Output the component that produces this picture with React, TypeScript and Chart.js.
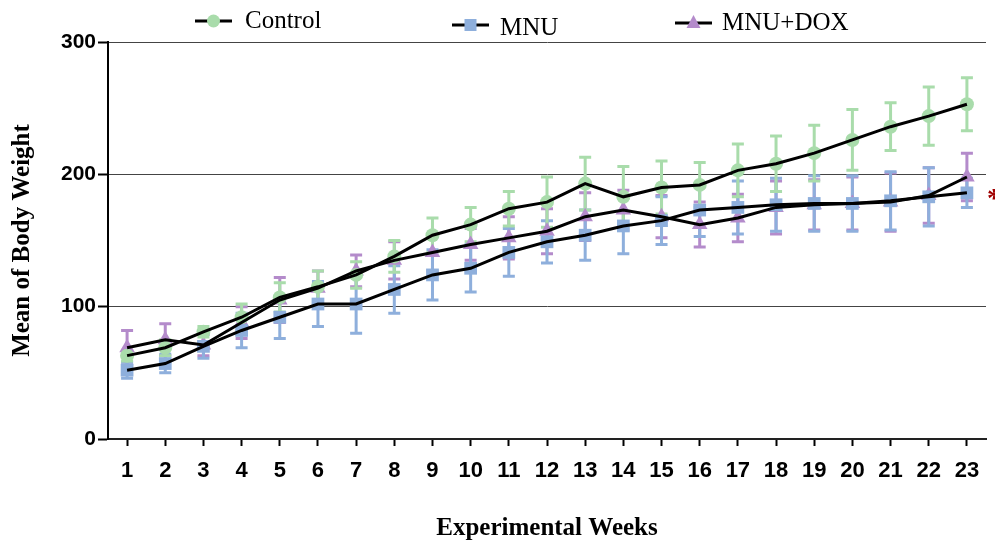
import React, { useEffect, useRef } from 'react';
import { Chart, registerables } from 'chart.js';

Chart.register(...registerables);

const weeks = ['1','2','3','4','5','6','7','8','9','10','11','12','13','14','15','16','17','18','19','20','21','22','23'];
const controlMean = [63, 69, 81, 92, 107, 115, 124, 138, 154, 162, 174, 179, 193, 183, 190, 192, 203, 208, 216, 226, 236, 244, 253];
const controlErr = [4, 6, 4, 10, 11, 12, 10, 12, 13, 13, 13, 19, 20, 23, 20, 17, 20, 21, 21, 23, 18, 22, 20];
const mnuMean = [52, 57, 70, 82, 92, 102, 102, 113, 124, 129, 141, 149, 154, 161, 165, 173, 175, 177, 178, 178, 180, 183, 186];
const mnuErr = [6, 7, 9, 13, 16, 17, 22, 18, 19, 18, 18, 16, 19, 21, 18, 20, 20, 20, 21, 21, 22, 22, 11];
const doxMean = [69, 75, 71, 88, 105, 114, 127, 135, 141, 147, 152, 157, 168, 173, 168, 162, 167, 175, 177, 178, 179, 184, 198];
const doxErr = [13, 12, 8, 12, 17, 13, 12, 14, 14, 12, 16, 17, 18, 15, 16, 17, 18, 20, 19, 20, 22, 21, 18];
const yTicks = [0, 100, 200, 300];

const GREEN = '#a9dcab';
const BLUE = '#8eafdc';
const PURPLE = '#b48bcb';

function drawMarker(ctx: CanvasRenderingContext2D, kind: string, x: number, y: number, color: string) {
  ctx.fillStyle = color;
  ctx.beginPath();
  if (kind === 'circle') {
    ctx.arc(x, y, 6.5, 0, Math.PI * 2);
  } else if (kind === 'rect') {
    ctx.rect(x - 6, y - 6, 12, 12);
  } else {
    ctx.moveTo(x, y - 8);
    ctx.lineTo(x + 7, y + 5);
    ctx.lineTo(x - 7, y + 5);
    ctx.closePath();
  }
  ctx.fill();
}

export default function App() {
  const ref = useRef<HTMLCanvasElement>(null);

  useEffect(() => {
    if (!ref.current) return;

    const errorBars = {
      id: 'errorBars',
      beforeDatasetsDraw(chart: any) {
        const ctx = chart.ctx as CanvasRenderingContext2D;
        const xs = chart.scales.x;
        const ys = chart.scales.y;
        const groups: [number[], number[], string][] = [
          [doxMean, doxErr, PURPLE],
          [mnuMean, mnuErr, BLUE],
          [controlMean, controlErr, GREEN],
        ];
        ctx.save();
        ctx.lineWidth = 3;
        for (const [m, e, c] of groups) {
          ctx.strokeStyle = c;
          m.forEach((v, i) => {
            const px = xs.getPixelForValue(i);
            const top = ys.getPixelForValue(v + e[i]);
            const bot = ys.getPixelForValue(v - e[i]);
            ctx.beginPath();
            ctx.moveTo(px, top);
            ctx.lineTo(px, bot);
            ctx.moveTo(px - 6, top);
            ctx.lineTo(px + 6, top);
            ctx.moveTo(px - 6, bot);
            ctx.lineTo(px + 6, bot);
            ctx.stroke();
          });
        }
        ctx.restore();
      },
    };

    const customLegend = {
      id: 'customLegend',
      afterDraw(chart: any) {
        const ctx = chart.ctx as CanvasRenderingContext2D;
        ctx.save();
        const items = [
          { label: 'Control', kind: 'circle', color: GREEN, x0: 195, y: 21, tx: 245, ty: 21 },
          { label: 'MNU', kind: 'rect', color: BLUE, x0: 452, y: 25, tx: 500, ty: 28 },
          { label: 'MNU+DOX', kind: 'triangle', color: PURPLE, x0: 675, y: 23, tx: 722, ty: 23 },
        ];
        for (const it of items) {
          ctx.strokeStyle = '#000';
          ctx.lineWidth = 3;
          ctx.beginPath();
          ctx.moveTo(it.x0, it.y);
          ctx.lineTo(it.x0 + 37, it.y);
          ctx.stroke();
          drawMarker(ctx, it.kind, it.x0 + 18.5, it.y, it.color);
          ctx.fillStyle = '#000';
          ctx.font = '25px "Liberation Serif"';
          ctx.textAlign = 'left';
          ctx.textBaseline = 'middle';
          ctx.fillText(it.label, it.tx, it.ty);
        }
        // significance mark at the right edge
        ctx.fillStyle = '#a00000';
        ctx.font = 'bold 28px "Liberation Serif"';
        ctx.textBaseline = 'middle';
        ctx.fillText('*', 987, 200);
        ctx.restore();
      },
    };

    const chart = new Chart(ref.current, {
      type: 'line',
      data: {
        labels: weeks,
        datasets: [
          { label: 'Control pts', data: controlMean, showLine: false, pointStyle: 'circle', pointRadius: 7, pointBackgroundColor: GREEN, pointBorderWidth: 0, borderColor: GREEN, order: 2 },
          { label: 'MNU pts', data: mnuMean, showLine: false, pointStyle: 'rect', pointRadius: 9, pointBackgroundColor: BLUE, pointBorderWidth: 0, borderColor: BLUE, order: 3 },
          { label: 'DOX pts', data: doxMean, showLine: false, pointStyle: 'triangle', pointRadius: 9, pointBackgroundColor: PURPLE, pointBorderWidth: 0, borderColor: PURPLE, order: 4 },
          { label: 'Control', data: controlMean, borderColor: '#000', borderWidth: 3, pointRadius: 0, tension: 0, order: 1 },
          { label: 'MNU', data: mnuMean, borderColor: '#000', borderWidth: 3, pointRadius: 0, tension: 0, order: 1 },
          { label: 'MNU+DOX', data: doxMean, borderColor: '#000', borderWidth: 3, pointRadius: 0, tension: 0, order: 1 },
        ],
      },
      options: {
        responsive: false,
        animation: false,
        devicePixelRatio: 1,
        layout: { padding: { top: 42, right: 5, left: 0, bottom: 0 } },
        plugins: { legend: { display: false }, tooltip: { enabled: false } },
        scales: {
          x: {
            type: 'category',
            offset: true,
            afterFit: (s: any) => { s.height = 105; },
            grid: { drawOnChartArea: false, drawTicks: true, tickLength: 7, tickWidth: 2, tickColor: '#000' },
            border: { display: true, color: '#222', width: 2 },
            ticks: { color: '#000', font: { family: '"Liberation Sans"', size: 22, weight: 'bold' }, padding: 12, maxRotation: 0, autoSkip: false },
            title: { display: true, text: 'Experimental Weeks', color: '#000', font: { family: '"Liberation Serif"', size: 25, weight: 'bold' }, padding: { top: 0, bottom: 0 } },
          },
          y: {
            min: 0,
            max: 300,
            afterFit: (s: any) => { s.width = 108; },
            afterBuildTicks: (s: any) => { s.ticks = yTicks.map((v) => ({ value: v })); },
            grid: {
              color: (c: any) => (c.tick && c.tick.value === 0 ? 'rgba(0,0,0,0)' : '#444'),
              lineWidth: 1,
              tickLength: 10,
              tickWidth: 2,
              tickColor: '#000',
            },
            border: { display: true, color: '#000', width: 2 },
            ticks: { color: '#000', font: { family: '"Liberation Sans"', size: 21, weight: 'bold' }, padding: 2 },
            title: { display: true, text: 'Mean of Body Weight', color: '#000', font: { family: '"Liberation Serif"', size: 25, weight: 'bold' }, padding: { top: 8, bottom: 0 } },
          },
        },
      },
      plugins: [errorBars, customLegend],
    });

    return () => chart.destroy();
  }, []);

  return (
    <div style={{ position: 'absolute', left: 0, top: 0, width: 995, height: 544, background: '#fff' }}>
      <canvas ref={ref} width={995} height={544} style={{ width: 995, height: 544 }} />
    </div>
  );
}
